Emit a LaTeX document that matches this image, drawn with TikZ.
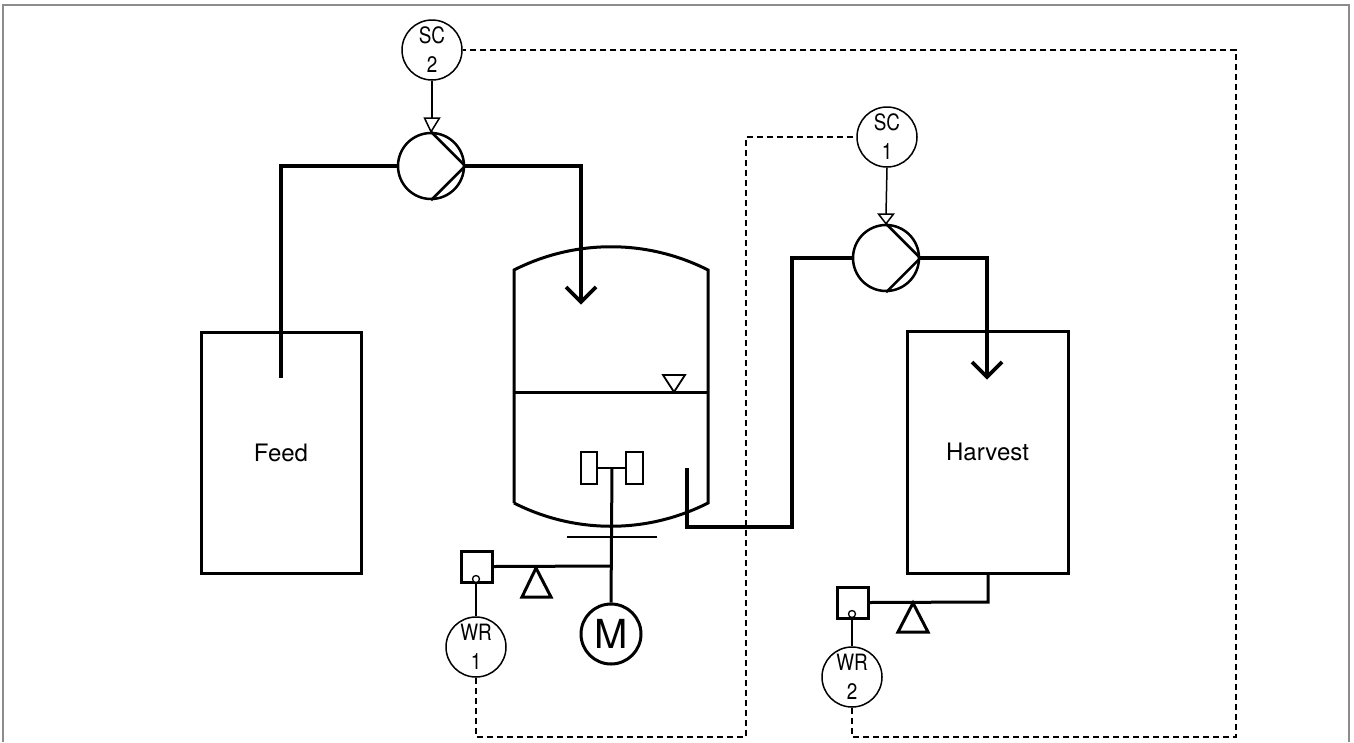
\documentclass[tikz,border=0pt]{standalone}
\usepackage{fontspec}
\usepackage{graphicx}
\setmainfont{TeX Gyre Heros}
\newcommand{\narw}[1]{\scalebox{0.84}[1]{#1}}
\tikzset{
  pipe/.style={line width=3.6pt, line join=miter},
  vessel/.style={line width=3pt, line join=miter},
  thin/.style={line width=1.5pt},
  signal/.style={line width=1.4pt, dash pattern=on 6pt off 4pt},
  inst/.style={circle, draw, line width=1.5pt, minimum size=60pt, inner sep=0pt, align=center,
    font=\fontsize{22.5}{29}\selectfont},
  pumpc/.style={circle, draw, line width=2.5pt, minimum size=66pt, inner sep=0pt},
  tank/.style={rectangle, draw, line width=3pt, inner sep=0pt, font=\fontsize{24}{28}\selectfont},
  wbox/.style={rectangle, draw, line width=3pt, minimum size=31pt, inner sep=0pt},
  tip/.style={circle, draw, fill=white, line width=1.3pt, minimum size=7pt, inner sep=0pt},
  lvl/.style={line width=1.8pt, line join=miter},
  frame/.style={line width=1.5pt, draw=black!45}
}
\begin{document}
\begin{tikzpicture}[x=1pt,y=-1pt]
\useasboundingbox (0,0) rectangle (1354,742);
% frame
\draw[frame] (3,742) -- (3,5) -- (1349,5) -- (1349,742);

% tanks
\node[tank, minimum width=160pt, minimum height=241pt] (feed) at (281,452.5) {Feed};
\node[tank, minimum width=161pt, minimum height=242pt] (harv) at (987.5,452) {Harvest};

% instruments
\node[inst] (sc2) at (432,50) {\narw{SC}\\\narw{2}};
\node[inst] (sc1) at (887,137) {\narw{SC}\\\narw{1}};
\node[inst] (wr1) at (476,647) {\narw{WR}\\\narw{1}};
\node[inst] (wr2) at (852,677) {\narw{WR}\\\narw{2}};

% pumps
\node[pumpc] (p2) at (431,166) {};
\node[pumpc] (p1) at (886,258) {};
\draw[line width=2.5pt] (p2.north) -- (p2.east) -- (p2.south);
\draw[line width=2.5pt] (p1.north) -- (p1.east) -- (p1.south);

% motor
\node[circle, draw, line width=3pt, minimum size=60pt, inner sep=0pt,
      font=\fontsize{40}{42}\selectfont] (mot) at (611,634) {M};

% weigh boxes
\node[wbox] (wb1) at (476.5,566.5) {};
\node[wbox] (wb2) at (852.5,602.5) {};
\node[tip] (t1) at (476,579) {};
\node[tip] (t2) at (852,614) {};

% reactor vessel
\coordinate (rtl) at (514,270);
\coordinate (rtr) at (708,270);
\coordinate (rbl) at (514,503);
\coordinate (rbr) at (708,503);
\draw[vessel] (rbl) -- (rtl) .. controls (575,239) and (647,239) .. (rtr) -- (rbr)
   .. controls (647,534) and (575,534) .. (rbl);
\draw[vessel] (514,392) -- (708,392);
\draw[lvl] (663,375) -- (685,375) -- (674,392) -- cycle;

% agitator
\coordinate (hub) at (612,468);
\draw[vessel] (hub) -- (mot.north);
\draw[line width=2.5pt] (597,468) -- (626,468);
\draw[line width=2.5pt] (581,452) rectangle (597,484);
\draw[line width=2.5pt] (626,452) rectangle (643,484);
\draw[line width=2.5pt] (567,537) -- (657,537);

% weighing of reactor
\coordinate (lev1) at (612,566);
\draw[vessel] (lev1) -- (wb1.east);
\draw[vessel] (536,568) -- (522,597) -- (551,597) -- cycle;
\draw[thin] (t1.south) -- (wr1.north);

% feed line
\coordinate (fa) at (281,166);
\coordinate (fb) at (281,378);
\coordinate (fc) at (581,166);
\coordinate (fd) at (581,302);
\draw[pipe] (p2.west) -- (fa) -- (fb);
\draw[pipe] (p2.east) -- (fc) -- (fd);
\draw[pipe] (566,287) -- (fd) -- (596,287);

% harvest line
\coordinate (ha) at (687,468);
\coordinate (hb) at (687,527);
\coordinate (hc) at (792,527);
\coordinate (hd) at (792,258);
\coordinate (he) at (987,258);
\coordinate (hf) at (987,377);
\draw[pipe] (ha) -- (hb) -- (hc) -- (hd) -- (p1.west);
\draw[pipe] (p1.east) -- (he) -- (hf);
\draw[pipe] (972,362) -- (hf) -- (1002,362);

% harvest weighing
\coordinate (ga) at (988,573);
\coordinate (gb) at (988,602);
\draw[vessel] (ga) -- (gb) -- (wb2.east);
\draw[vessel] (913,603) -- (898,632) -- (928,632) -- cycle;
\draw[thin] (t2.south) -- (wr2.north);

% control signals to pumps
\draw[thin] (sc2.south) -- (432,118);
\draw[thin, fill=white] (424.5,118) -- (439.5,118) -- (p2.north) -- cycle;
\draw[thin] (sc1.south) -- (886,214);
\draw[thin, fill=white] (878.5,214) -- (893.5,214) -- (p1.north) -- cycle;

% signal lines
\coordinate (s1a) at (476,737);
\coordinate (s1b) at (746,737);
\coordinate (s1c) at (746,137);
\draw[signal] (wr1.south) -- (s1a) -- (s1b) -- (s1c) -- (sc1.west);
\coordinate (s2a) at (852,737);
\coordinate (s2b) at (1236,737);
\coordinate (s2c) at (1236,50);
\draw[signal] (wr2.south) -- (s2a) -- (s2b) -- (s2c) -- (sc2.east);
\end{tikzpicture}
\end{document}
